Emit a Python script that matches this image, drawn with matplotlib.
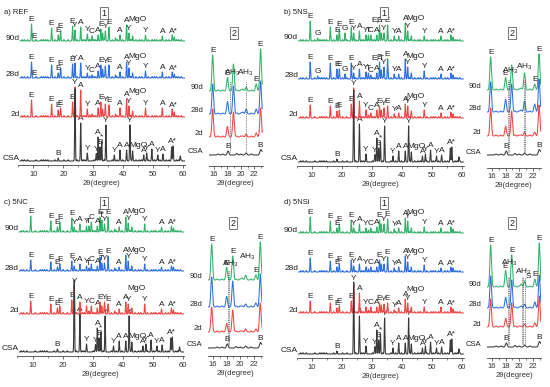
import numpy as np
import matplotlib.pyplot as plt

plt.rcParams['font.family'] = ['Liberation Sans', 'DejaVu Sans']
plt.rcParams['mathtext.fontset'] = 'custom'
plt.rcParams['mathtext.rm'] = 'Liberation Sans'

W, H = 550, 387
GREEN = '#34b068'
BLUE = '#2f6fe0'
RED = '#f04545'
BLACK = '#3a3a3a'
AGES = ['90d', '28d', '2d', 'CSA']
COLORS = [GREEN, BLUE, RED, BLACK]

# ---- anhydrous CSA pattern (same in every panel), peak position (deg) / height (px)
csa_pos = [18.3, 23.9, 25.8, 28.0, 31.0, 31.6, 32.2, 32.8, 34.2, 37.0, 38.9, 41.1,
           42.2, 43.1, 46.8, 47.8, 49.5, 51.5, 53.2, 56.1, 56.6, 59.0]
csa_int = [3, 72, 38, 8, 7, 24, 14, 20, 36, 6, 11, 11, 36, 10, 6, 8, 11, 6, 7, 14, 15, 5]
csa_labels = [('B', 18.3), ('A', 25.8), ('Y', 28.0), ('Y', 31.0), ('A', 31.6), ('B', 32.2),
              ('*', 32.8), ('Y', 34.2), ('Y', 37.0), ('A', 38.9), ('A', 41.1), ('Y', 42.2),
              ('MgO', 45.0, 12), ('A', 46.8), ('Y', 47.8), ('A', 49.5), ('Y', 51.5),
              ('A', 53.2), ('A*', 56.4)]

# small humps seen on every trace
minor_pos = [6.2, 7.0, 8.1, 10.9, 12.6, 13.3, 14.0, 14.8, 17.2, 20.2, 21.6, 24.6, 26.6,
             27.2, 30.2, 30.8, 33.6, 36.3, 37.9, 39.8, 42.5, 44.2, 45.3, 46.1, 48.3, 49.6,
             50.4, 51.1, 52.2, 54.3, 55.2, 57.7, 58.4, 59.3]

# ---- hydrated pastes, common peak positions
hyd_pos = [9.4, 11.9, 16.1, 18.3, 19.1, 21.0, 23.1, 23.9, 25.8, 28.0, 29.6, 31.6, 32.5,
           33.1, 34.0, 35.2, 38.9, 41.1, 41.9, 43.1, 47.4, 53.0, 56.3, 57.0, 28.8, 37.4]

ref_90d = [17, 0, 13, 6, 10, 0, 15, 11, 14, 7, 5, 6, 12, 8, 10, 14, 6, 16, 8, 5, 6, 5, 6, 4, 2, 3]
ref_28d = [16, 0, 13, 5, 10, 0, 14, 15, 15, 5, 3, 7, 13, 9, 12, 13, 6, 16, 10, 5, 7, 6, 6, 4, 2, 3]
ref_2d = [17, 0, 13, 7, 9, 0, 15, 30, 27, 8, 3, 9, 15, 8, 13, 12, 9, 18, 11, 6, 9, 9, 8, 5, 2, 3]
ns_90d = [20, 3, 14, 6, 12, 8, 14, 8, 10, 6, 6, 6, 16, 8, 8, 16, 5, 18, 10, 5, 5, 5, 6, 4, 6, 5]
ns_28d = [17, 3, 16, 10, 10, 5, 16, 6, 10, 7, 4, 6, 17, 9, 12, 20, 5, 20, 12, 6, 8, 5, 6, 4, 6, 5]
ns_2d = [13, 0, 12, 7, 8, 0, 14, 30, 17, 8, 5, 8, 12, 8, 10, 12, 5, 14, 12, 7, 8, 5, 6, 4, 3, 4]
nc_90d = [16, 0, 11, 5, 10, 0, 14, 5, 8, 6, 10, 6, 15, 12, 8, 15, 5, 15, 9, 5, 8, 5, 6, 4, 6, 3]
nc_28d = [11, 0, 9, 4, 7, 0, 10, 5, 7, 5, 7, 5, 14, 8, 8, 15, 4, 16, 10, 5, 7, 4, 5, 4, 3, 3]
nc_2d = [13, 0, 10, 6, 8, 0, 14, 28, 12, 8, 8, 6, 12, 8, 12, 10, 5, 12, 10, 6, 10, 5, 6, 4, 3, 3]
nsi_90d = [16, 0, 12, 5, 9, 0, 13, 5, 9, 5, 5, 6, 13, 9, 9, 14, 5, 15, 12, 5, 6, 5, 6, 4, 3, 4]
nsi_28d = [14, 0, 11, 5, 8, 0, 12, 6, 8, 5, 5, 5, 12, 8, 8, 15, 5, 16, 10, 5, 7, 4, 5, 4, 3, 4]
nsi_2d = [12, 0, 10, 5, 7, 0, 12, 30, 20, 6, 6, 6, 10, 8, 9, 10, 5, 14, 10, 6, 6, 6, 6, 4, 3, 3]

lbl_common = [('E', 9.4), ('E', 16.1), ('E', 18.3), ('E', 19.1), ('E', 23.1), ('Y', 23.9),
              ('A', 25.8), ('Y', 28.0), ('A', 31.6), ('E', 32.5), ('Y', 34.0), ('E', 35.2),
              ('A', 38.9), ('A', 41.1), ('Y', 41.9), ('Y', 47.4), ('A', 53.0), ('A*', 56.6)]
lbl_ref_late = [('E', 10.2, 1), ('C', 29.6), ('MgO', 44.6, 18)]
lbl_ref_2d = [('MgO', 44.6, 22)]
lbl_ns_late = [('G', 11.9), ('G', 21.0), ('T', 28.8), ('C', 29.6), ('E,T', 32.0, 18),
               ('Y', 37.4), ('MgO', 44.6, 19)]
lbl_ns_2d = [('C', 29.6), ('Y', 37.4), ('MgO', 44.6, 18)]
lbl_nc_late = [('T', 28.8), ('C', 29.6), ('T', 33.1), ('MgO', 44.6, 17)]
lbl_nc_2d = [('C', 29.6), ('MgO', 44.6, 22)]
lbl_nsi_late = [('C', 29.6), ('Y', 37.4), ('MgO', 44.6, 17)]
lbl_nsi_2d = [('C', 29.6), ('Y', 37.4), ('MgO', 44.6, 20)]

# ---- zoomed region 2 (15-23 deg)
ins_pos = [15.8, 18.0, 18.9, 20.3, 20.8, 22.3, 22.95]
ins_ref = [[36, 13, 27, 2, 3, 7, 41], [30, 12, 28, 2, 4, 5, 32], [28, 10, 25, 1, 2, 4, 28]]
ins_ns = [[33, 12, 25, 2, 16, 6, 35], [30, 12, 28, 2, 10, 8, 32], [28, 9, 25, 1, 3, 4, 30]]
ins_nc = [[36, 12, 24, 2, 4, 5, 37], [30, 10, 26, 1, 2, 4, 32], [25, 8, 22, 1, 2, 3, 28]]
ins_nsi = [[42, 16, 32, 3, 5, 8, 43], [32, 10, 28, 2, 3, 6, 32], [28, 8, 24, 1, 2, 4, 30]]
ins_csa_pos = [16.6, 17.3, 18.1, 19.4, 20.0, 20.8, 21.6, 22.95, 23.2]
ins_csa_int = [1, 1, 4, 1.5, 1, 2, 1, 5, 3]
ins_lbl_ref = [('E', 15.8), ('E', 18.0), ('AH$_3$', 18.8, 13), ('AH$_3$', 20.7, 13),
               ('E', 22.3), ('E', 22.95)]
ins_lbl_ns = [('E', 15.8), ('E', 18.0), ('AH$_3$', 18.7, 14), ('AH$_3$', 20.8),
              ('E', 22.3), ('E', 22.95)]
ins_lbl_nc = [('E', 15.8), ('E', 18.0), ('AH$_3$', 18.6, 11), ('E', 18.9),
              ('AH$_3$', 21.1, 18), ('E', 22.3), ('E', 22.95)]
ins_lbl_nsi = [('E', 15.8), ('E', 18.0), ('AH$_3$', 18.6, 19), ('E', 18.9),
               ('AH$_3$', 20.6, 10), ('S', 21.4, 7), ('E', 22.3), ('E', 22.95)]
ins_csa_lbl = [('B', 18.1), ('B', 22.95)]
dash_ref = [18.35, 20.75]
dash_ns = [18.3, 18.45, 20.7, 20.9]
dash_nc = [18.25, 18.4]
dash_nsi = [18.3, 18.45, 20.4, 20.6, 20.85]

panels = [
    dict(title='a) REF', px0=0, py0=0, traces=[ref_90d, ref_28d, ref_2d],
         labels=[lbl_common + lbl_ref_late] * 2 + [lbl_common + lbl_ref_2d],
         ins=ins_ref, ins_lbl=ins_lbl_ref, dash=dash_ref,
         main_base=[41, 78, 117, 161], ins_base=[91, 114, 137, 155], spine=165, ins_spine=166,
         p5=18.3, p16=214, ins_ppd=6.7),
    dict(title='b) 5NS', px0=280, py0=0, traces=[ns_90d, ns_28d, ns_2d],
         labels=[lbl_common + lbl_ns_late] * 2 + [lbl_common + lbl_ns_2d],
         ins=ins_ns, ins_lbl=ins_lbl_ns, dash=dash_ns,
         main_base=[41, 79, 118, 162], ins_base=[90, 112, 136, 155], spine=166, ins_spine=168,
         p5=297, p16=492, ins_ppd=6.77),
    dict(title='c) 5NC', px0=0, py0=190, traces=[nc_90d, nc_28d, nc_2d],
         labels=[lbl_common + lbl_nc_late] * 2 + [lbl_common + lbl_nc_2d],
         ins=ins_nc, ins_lbl=ins_lbl_nc, dash=dash_nc,
         main_base=[232, 271, 314, 352], ins_base=[280, 307, 332, 348], spine=356, ins_spine=356,
         p5=17.5, p16=213, ins_ppd=6.8),
    dict(title='d) 5NSi', px0=280, py0=190, traces=[nsi_90d, nsi_28d, nsi_2d],
         labels=[lbl_common + lbl_nsi_late] * 2 + [lbl_common + lbl_nsi_2d],
         ins=ins_nsi, ins_lbl=ins_lbl_nsi, dash=dash_nsi,
         main_base=[233, 272, 313, 354], ins_base=[287, 308, 327, 347], spine=358, ins_spine=358,
         p5=297, p16=492, ins_ppd=6.8),
]

fig = plt.figure(figsize=(5.5, 3.87), dpi=100)


def px_axes(left, top, right, bottom):
    return fig.add_axes([left / W, 1 - bottom / H, (right - left) / W, (bottom - top) / H])


def pattern(x, pos, hts, width):
    y = np.zeros_like(x)
    for p, h in zip(pos, hts):
        y += h * np.exp(-0.5 * ((x - p) / width) ** 2)
    return y


def style_axis(ax, major, minor):
    for s in ['top', 'right', 'left']:
        ax.spines[s].set_visible(False)
    ax.spines['bottom'].set_linewidth(0.6)
    ax.spines['bottom'].set_color('#444444')
    ax.set_yticks([])
    ax.set_xticks(major)
    ax.set_xticks(minor, minor=True)
    ax.tick_params(axis='x', which='major', length=2.5, width=0.5, labelsize=5.5, pad=1.5,
                   colors='#333333')
    ax.tick_params(axis='x', which='minor', length=1.5, width=0.4, colors='#333333')
    ax.set_xlabel('2θ(degree)', fontsize=5.5, labelpad=1.5, color='#333333')
    ax.patch.set_alpha(0)


def put_labels(ax, x, y, labels, base, win):
    for lab in labels:
        if len(lab) == 3:
            yy = base + lab[2]
        else:
            m = (x > lab[1] - win) & (x < lab[1] + win)
            yy = y[m].max() + 0.8
        ax.text(lab[1], yy, lab[0], fontsize=6, ha='center', va='bottom', color='#222222',
                clip_on=False)


xm = np.arange(5.6, 60.4, 0.015)
xi = np.arange(15.25, 23.2, 0.01)

for P in panels:
    # ---------- main pattern (region 1)
    spine = P['spine']
    top = spine - 150
    ax = px_axes(P['p5'], top, P['p5'] + 55.5 * 3.0, spine)
    ax.set_xlim(5, 60.5)
    ax.set_ylim(0, 150)
    style_axis(ax, range(10, 61, 10), range(5, 61, 5))
    for k in range(4):
        base = spine - P['main_base'][k]
        if k < 3:
            y = base + pattern(xm, hyd_pos, P['traces'][k], 0.11) + pattern(xm, minor_pos, [1.4] * len(minor_pos), 0.13)
            lbls = P['labels'][k]
        else:
            y = base + pattern(xm, csa_pos, csa_int, 0.11) + pattern(xm, minor_pos, [1.2] * len(minor_pos), 0.13)
            lbls = csa_labels
        ax.plot(xm, y, color=COLORS[k], lw=0.8, zorder=2 + k)
        put_labels(ax, xm, y, lbls, base, 0.25)
        ax.text(5.4, base + 3, AGES[k], fontsize=6, ha='right', va='center', color='#222222',
                clip_on=False)
    fig.text((P['px0'] + 4) / W, 1 - (P['py0'] + 12) / H, P['title'], fontsize=5.5,
             ha='left', va='center', color='#222222')
    fig.text((P['px0'] + 104) / W, 1 - (P['py0'] + 13) / H, '1', fontsize=6.5, ha='center',
             va='center', color='#222222',
             bbox=dict(boxstyle='square,pad=0.2', fc='white', ec='#444444', lw=0.5))

    # ---------- zoomed pattern (region 2)
    ispine = P['ins_spine']
    itop = P['py0'] + 40
    ppd = P['ins_ppd']
    left = P['p16'] - (16 - 15.2) * ppd
    right = P['p16'] + (23.25 - 16) * ppd
    ax2 = px_axes(left, itop, right, ispine)
    ax2.set_xlim(15.2, 23.25)
    ax2.set_ylim(0, ispine - itop)
    style_axis(ax2, [16, 18, 20, 22], [17, 19, 21, 23])
    ax2.tick_params(axis='x', which='major', length=2.0)
    for k in range(4):
        base = ispine - P['ins_base'][k]
        if k < 3:
            y = base + pattern(xi, ins_pos, P['ins'][k], 0.12) + pattern(xi, ins_csa_pos, [1.0] * len(ins_csa_pos), 0.1)
        else:
            y = base + pattern(xi, ins_csa_pos, ins_csa_int, 0.12)
        ax2.plot(xi, y, color=COLORS[k], lw=0.75, zorder=2 + k)
        if k == 0:
            put_labels(ax2, xi, y, P['ins_lbl'], base, 0.12)
            top_dash = base + 10
        if k == 3:
            put_labels(ax2, xi, y, ins_csa_lbl, base, 0.15)
            bot_dash = base + 3
        ax2.text(15.2 - 0.8, base + 3, AGES[k], fontsize=5.5, ha='right', va='center',
                 color='#222222', clip_on=False)
    for d in P['dash']:
        ax2.plot([d, d], [bot_dash, top_dash], ls=(0, (1.5, 1.2)), lw=0.5, color='#555555',
                 zorder=7)
    fig.text((P['p16'] + 20) / W, 1 - (P['py0'] + 33) / H, '2', fontsize=6.5, ha='center',
             va='center', color='#222222',
             bbox=dict(boxstyle='square,pad=0.2', fc='white', ec='#444444', lw=0.5))

fig.savefig('out.png', dpi=100)
